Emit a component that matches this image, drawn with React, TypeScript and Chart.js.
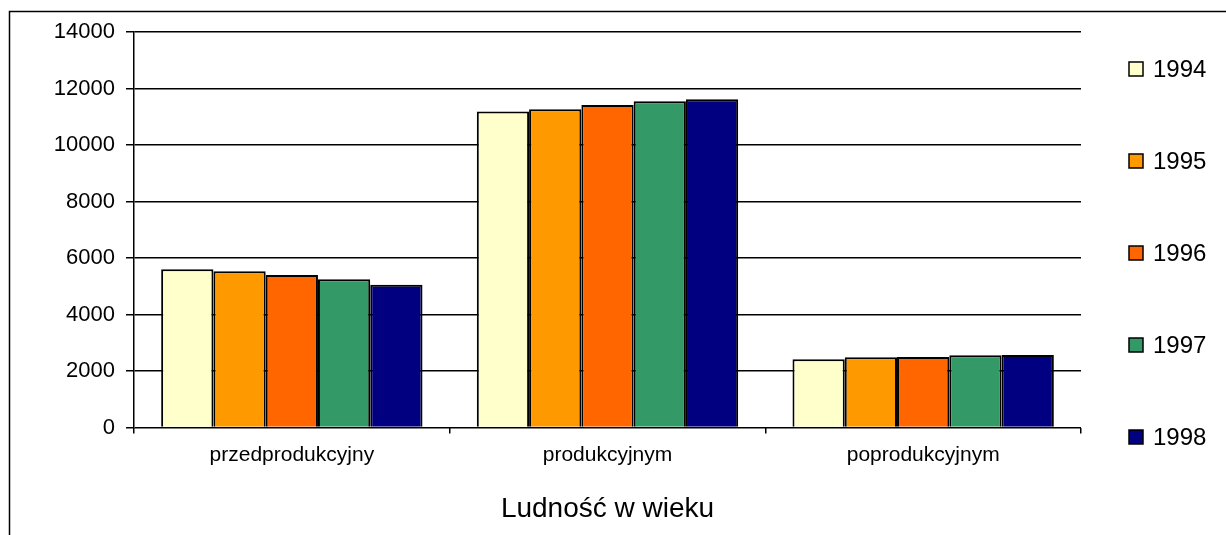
import React, { useEffect, useRef } from "react";
import { Chart, registerables } from "chart.js";

Chart.register(...registerables);

const categories = ["przedprodukcyjny", "produkcyjnym", "poprodukcyjnym"];
const years = ["1994", "1995", "1996", "1997", "1998"];
const v1994 = [5600, 11190, 2415];
const v1995 = [5530, 11265, 2485];
const v1996 = [5400, 11415, 2495];
const v1997 = [5245, 11545, 2555];
const v1998 = [5055, 11620, 2565];
const colors = ["#FFFFCC", "#FF9900", "#FF6600", "#339966", "#000080"];
const yTicks = [0, 2000, 4000, 6000, 8000, 10000, 12000, 14000];
const axisTitle = "Ludność w wieku";

const FONT = "'Liberation Sans', Arial, sans-serif";

const framePlugin = {
  id: "frame",
  beforeDraw(chart: any) {
    const ctx = chart.ctx;
    ctx.save();
    ctx.strokeStyle = "#000";
    ctx.lineWidth = 1.5;
    ctx.beginPath();
    ctx.moveTo(9.5, chart.height + 2);
    ctx.lineTo(9.5, 11.5);
    ctx.lineTo(chart.width + 2, 11.5);
    ctx.stroke();
    ctx.restore();
  },
};

const legendPlugin = {
  id: "sideLegend",
  afterDraw(chart: any) {
    const ctx = chart.ctx;
    const x0 = chart.chartArea.right + 48;
    const y0 = 69;
    const step = 92;
    ctx.save();
    chart.data.datasets.forEach((ds: any, i: number) => {
      const cy = y0 + i * step;
      ctx.fillStyle = ds.backgroundColor;
      ctx.fillRect(x0, cy - 7, 14, 14);
      ctx.strokeStyle = "#000";
      ctx.lineWidth = 1.5;
      ctx.strokeRect(x0, cy - 7, 14, 14);
      ctx.fillStyle = "#000";
      ctx.font = `24px ${FONT}`;
      ctx.textBaseline = "middle";
      ctx.textAlign = "left";
      ctx.fillText(ds.label, x0 + 24, cy + 1);
    });
    ctx.restore();
  },
};

export default function App() {
  const ref = useRef<HTMLCanvasElement>(null);
  useEffect(() => {
    if (!ref.current) return;
    const series = [v1994, v1995, v1996, v1997, v1998];
    const chart = new Chart(ref.current, {
      type: "bar",
      data: {
        labels: categories,
        datasets: years.map((y, i) => ({
          label: y,
          data: series[i],
          backgroundColor: colors[i],
          borderColor: "#000",
          borderWidth: 2,
          categoryPercentage: 0.828,
          barPercentage: 1,
        })),
      },
      options: {
        animation: false,
        responsive: false,
        maintainAspectRatio: false,
        layout: { padding: { left: 10, top: 32, right: 145, bottom: 0 } },
        plugins: {
          legend: { display: false },
          tooltip: { enabled: false },
          title: { display: false },
        },
        scales: {
          x: {
            afterFit(scale: any) {
              scale.height = 107.5;
            },
            grid: {
              display: true,
              drawOnChartArea: false,
              drawTicks: true,
              tickLength: 6,
              color: "#000",
              lineWidth: 1.5,
              offset: true,
            },
            border: { display: false },
            ticks: {
              color: "#000",
              font: { family: FONT, size: 21 },
              padding: 9,
              maxRotation: 0,
            },
            title: {
              display: true,
              text: axisTitle,
              color: "#000",
              font: { family: FONT, size: 28 },
              padding: { top: 0, bottom: 9 },
            },
          },
          y: {
            min: 0,
            max: 14000,
            afterFit(scale: any) {
              scale.width = 124;
            },
            afterBuildTicks(scale: any) {
              scale.ticks = yTicks.map((v) => ({ value: v }));
            },
            grid: {
              color: "#000",
              lineWidth: 1.5,
              drawTicks: true,
              tickLength: 8,
            },
            border: { display: true, color: "#000", width: 1.5 },
            ticks: {
              color: "#000",
              font: { family: FONT, size: 22 },
              padding: 11,
              callback: (v: any) => String(v),
            },
          },
        },
      },
      plugins: [framePlugin, legendPlugin],
    });
    return () => chart.destroy();
  }, []);
  return (
    <div style={{ position: "fixed", left: 0, top: 0, width: 1226, height: 535, background: "#fff" }}>
      <canvas ref={ref} width={1226} height={535} style={{ display: "block" }} />
    </div>
  );
}
